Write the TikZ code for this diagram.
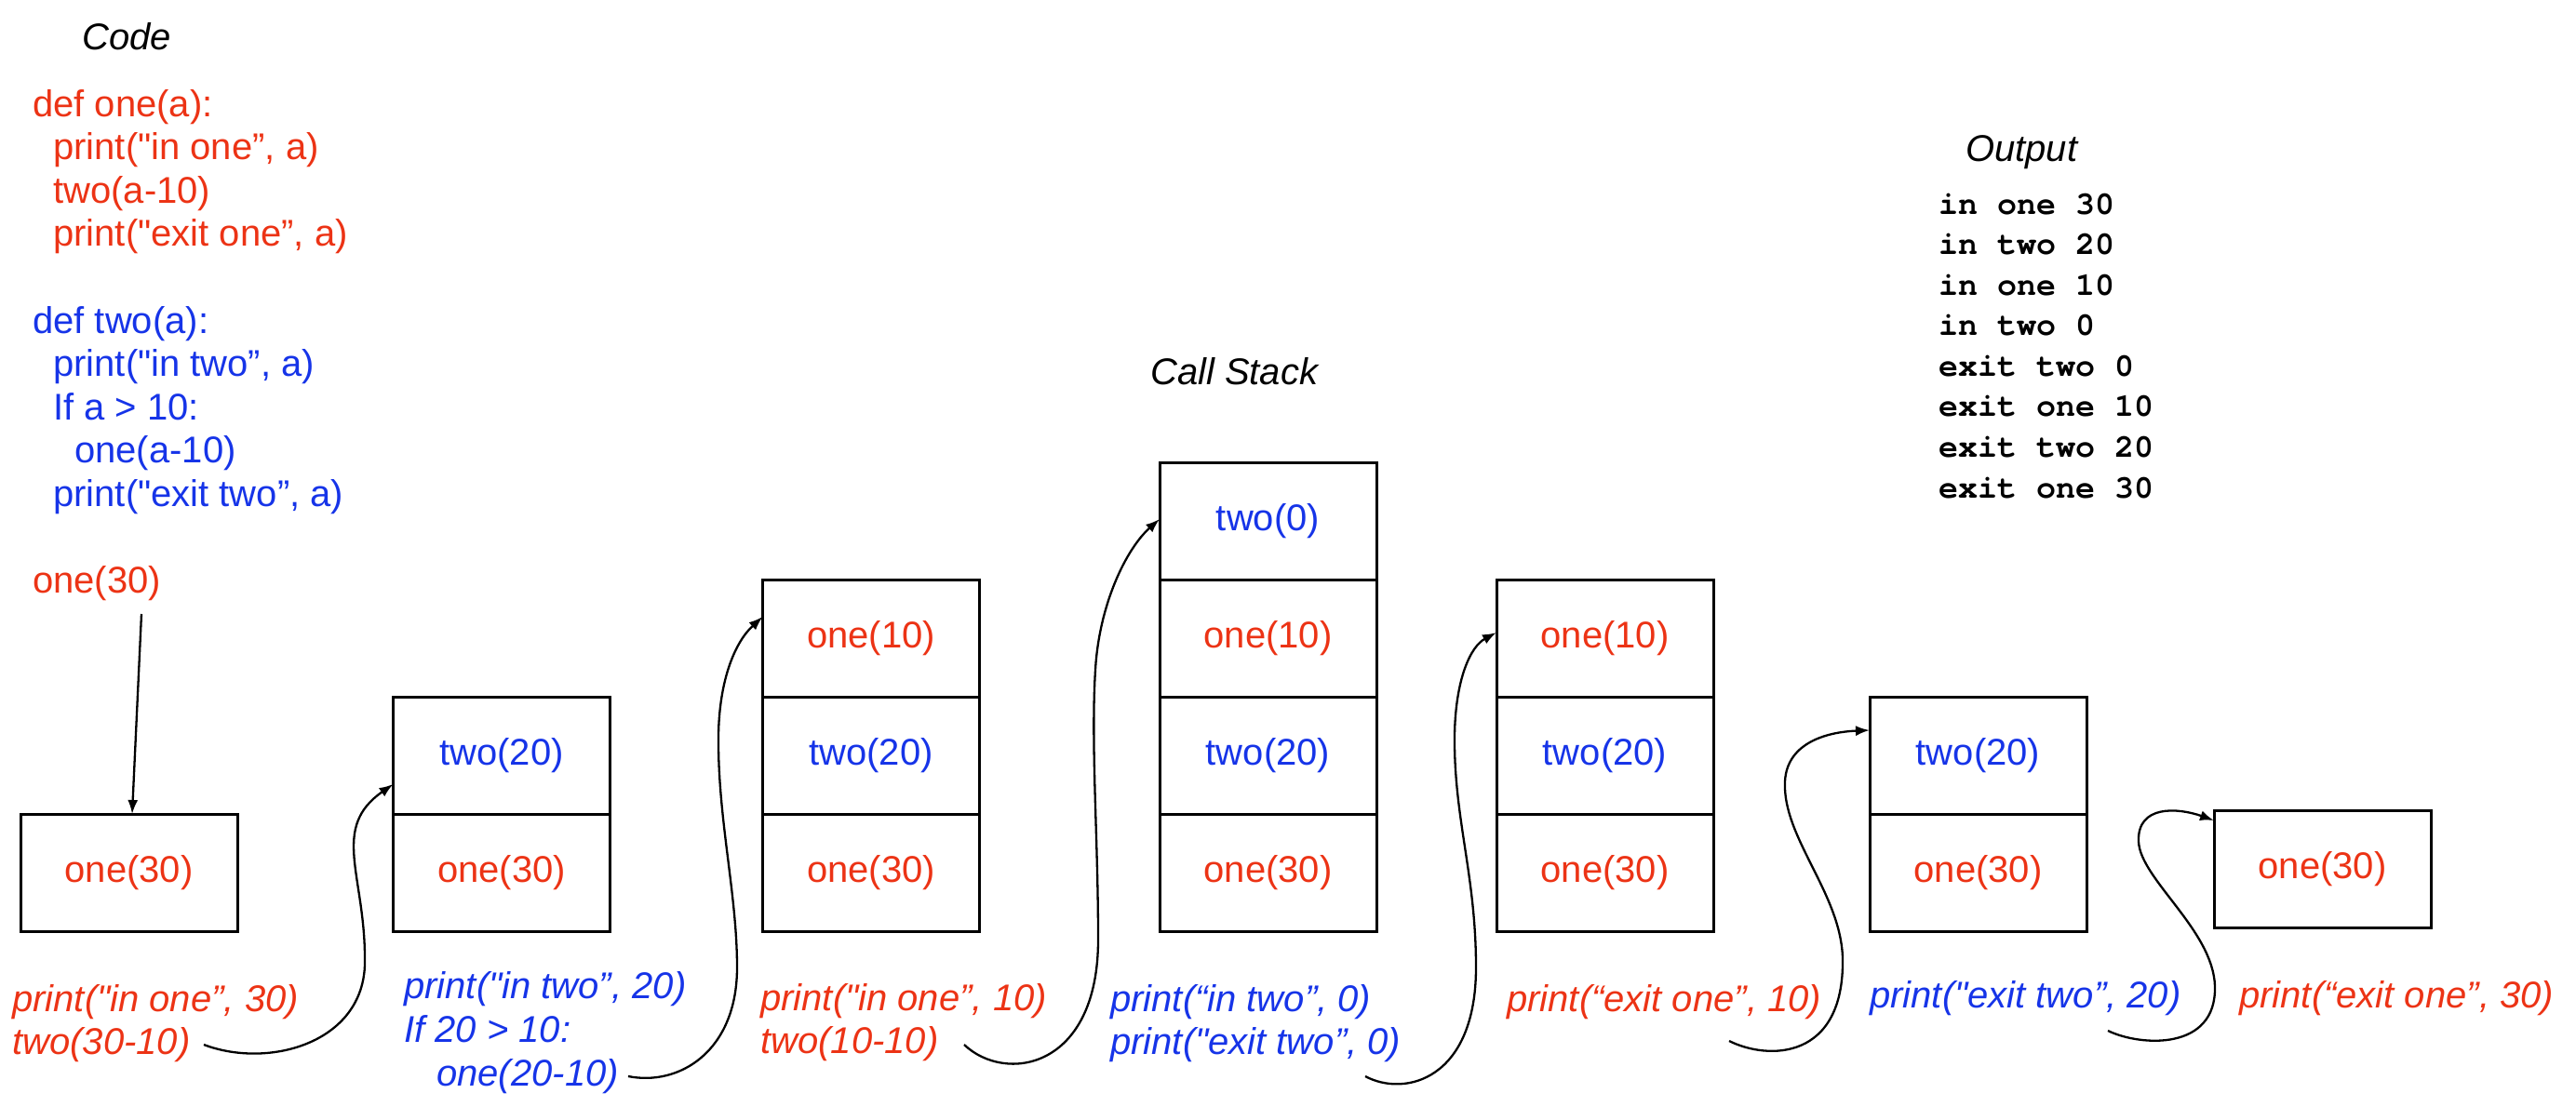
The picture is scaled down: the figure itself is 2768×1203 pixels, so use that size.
\documentclass[tikz,border=0pt]{standalone}
\usepackage{fontspec}
\setmainfont{Liberation Sans}[Ligatures=TeXOff]
\setmonofont{TeX Gyre Cursor}
\usetikzlibrary{positioning,arrows.meta}

\definecolor{onered}{RGB}{236,51,21}
\definecolor{twoblue}{RGB}{22,52,232}
\newcommand\bigtext{\fontsize{40}{46}\selectfont}
\newcommand\outtext{\fontsize{35}{43}\selectfont\ttfamily\bfseries}

\tikzset{
  codeln/.style={anchor=base west, inner sep=0pt, font=\bigtext},
  heading/.style={codeln, font=\bigtext\itshape},
  tracetxt/.style={codeln, font=\bigtext\itshape},
  printed/.style={anchor=base west, inner sep=0pt, font=\outtext},
  onef/.style={text=onered},
  twof/.style={text=twoblue},
  cellbox/.style={draw, line width=3pt, outer sep=0pt, inner sep=0pt,
    minimum width=233pt, minimum height=126pt, font=\bigtext},
  call/.style={-{Latex[length=15pt,width=11pt]}, line width=2.3pt},
}

\begin{document}
\begin{tikzpicture}[x=1pt,y=-1pt]
\useasboundingbox (0,0) rectangle (2768,1203);

% the code
\node[heading]      (code)  at (88,53)     {Code};
\node[codeln,onef]  (d1)    at (35,125)    {def one(a):};
\node[codeln,onef]  (d1a)   at (57,171.6)  {print("in one”, a)};
\node[codeln,onef]  (d1b)   at (57,218.2)  {two(a-10)};
\node[codeln,onef]  (d1c)   at (57,264.8)  {print("exit one”, a)};
\node[codeln,twof]  (d2)    at (35,358)    {def two(a):};
\node[codeln,twof]  (d2a)   at (57,404.6)  {print("in two”, a)};
\node[codeln,twof]  (d2b)   at (57,451.2)  {If a > 10:};
\node[codeln,twof]  (d2c)   at (80,497.8)  {one(a-10)};
\node[codeln,twof]  (d2d)   at (57,544.4)  {print("exit two”, a)};
\node[codeln,onef]  (main)  at (35,637.6)  {one(30)};

% the output
\node[heading]      (outt)  at (2112,173)  {Output};
\node[printed]      (o1)    at (2083,230)    {in one 30};
\node[printed]      (o2)    at (2083,273.6)  {in two 20};
\node[printed]      (o3)    at (2083,317.1)  {in one 10};
\node[printed]      (o4)    at (2083,360.7)  {in two 0};
\node[printed]      (o5)    at (2083,404.3)  {exit two 0};
\node[printed]      (o6)    at (2083,447.9)  {exit one 10};
\node[printed]      (o7)    at (2083,491.4)  {exit two 20};
\node[printed]      (o8)    at (2083,535)    {exit one 30};

\node[heading]      (stack) at (1236,413)  {Call Stack};

% the frames, bottom up
\node[cellbox,onef] (s1a) at (138.5,938)  {one(30)};

\node[cellbox,onef] (s2a) at (539,938)    {one(30)};
\node[cellbox,twof] (s2b) [above=0pt of s2a] {two(20)};

\node[cellbox,onef] (s3a) at (936,938)    {one(30)};
\node[cellbox,twof] (s3b) [above=0pt of s3a] {two(20)};
\node[cellbox,onef] (s3c) [above=0pt of s3b] {one(10)};

\node[cellbox,onef] (s4a) at (1362.5,938) {one(30)};
\node[cellbox,twof] (s4b) [above=0pt of s4a] {two(20)};
\node[cellbox,onef] (s4c) [above=0pt of s4b] {one(10)};
\node[cellbox,twof] (s4d) [above=0pt of s4c] {two(0)};

\node[cellbox,onef] (s5a) at (1724.5,938) {one(30)};
\node[cellbox,twof] (s5b) [above=0pt of s5a] {two(20)};
\node[cellbox,onef] (s5c) [above=0pt of s5b] {one(10)};

\node[cellbox,onef] (s6a) at (2125.5,938) {one(30)};
\node[cellbox,twof] (s6b) [above=0pt of s6a] {two(20)};

\node[cellbox,onef] (s7a) at (2495.5,934) {one(30)};

% what runs between
\node[tracetxt,onef] (t1a) at (13,1087)   {print("in one”, 30)};
\node[tracetxt,onef] (t1b) at (13,1133)   {two(30-10)};
\node[tracetxt,twof] (t2a) at (434,1073)  {print("in two”, 20)};
\node[tracetxt,twof] (t2b) at (434,1120)  {If 20 > 10:};
\node[tracetxt,twof] (t2c) at (469,1167)  {one(20-10)};
\node[tracetxt,onef] (t3a) at (817,1086)  {print("in one”, 10)};
\node[tracetxt,onef] (t3b) at (817,1132)  {two(10-10)};
\node[tracetxt,twof] (t4a) at (1193,1087) {print(“in two”, 0)};
\node[tracetxt,twof] (t4b) at (1193,1133) {print("exit two”, 0)};
\node[tracetxt,onef] (t5a) at (1619,1087) {print(“exit one”, 10)};
\node[tracetxt,twof] (t6a) at (2009,1083) {print("exit two”, 20)};
\node[tracetxt,onef] (t7a) at (2406,1083) {print(“exit one”, 30)};

% calls and returns
\coordinate (go1) at (152,660);
\coordinate (go2) at (219,1123);
\coordinate (go3) at (675,1157);
\coordinate (go4) at (1036,1123);
\coordinate (go5) at (1467,1157);
\coordinate (go6) at (1858,1119);
\coordinate (go7) at (2265,1108);
\coordinate (to2) at ([yshift=-31pt]s2b.west);
\coordinate (to3) at ([yshift=23pt]s3c.west);
\coordinate (to4) at ([yshift=2pt]s4d.west);
\coordinate (to5) at ([yshift=6pt]s5c.west);
\coordinate (to6) at ([yshift=27pt]s6b.west);
\coordinate (to7) at ([yshift=52pt]s7a.west);

\draw[call] (go1) -- ([xshift=3.5pt]s1a.north);
\draw[call] (go2) .. controls (290,1150) and (395,1120) .. (392,1030)
                  .. controls (392,940) and (355,890) .. (to2);
\draw[call] (go3) .. controls (730,1168) and (792,1130) .. (792,1040)
                  .. controls (792,960) and (771,880) .. (772,790)
                  .. controls (773,730) and (790,690) .. (to3);
\draw[call] (go4) .. controls (1080,1165) and (1180,1150) .. (1180,1010)
                  .. controls (1180,900) and (1172,800) .. (1177,720)
                  .. controls (1181,650) and (1210,590) .. (to4);
\draw[call] (go5) .. controls (1510,1180) and (1586,1160) .. (1586,1040)
                  .. controls (1586,940) and (1562,880) .. (1563,790)
                  .. controls (1564,730) and (1580,695) .. (to5);
\draw[call] (go6) .. controls (1900,1140) and (1982,1140) .. (1980,1030)
                  .. controls (1978,960) and (1915,900) .. (1918,840)
                  .. controls (1920,800) and (1960,787) .. (to6);
\draw[call] (go7) .. controls (2300,1125) and (2382,1130) .. (2380,1060)
                  .. controls (2378,1000) and (2300,945) .. (2298,905)
                  .. controls (2296,865) and (2340,868) .. (to7);
\end{tikzpicture}
\end{document}
